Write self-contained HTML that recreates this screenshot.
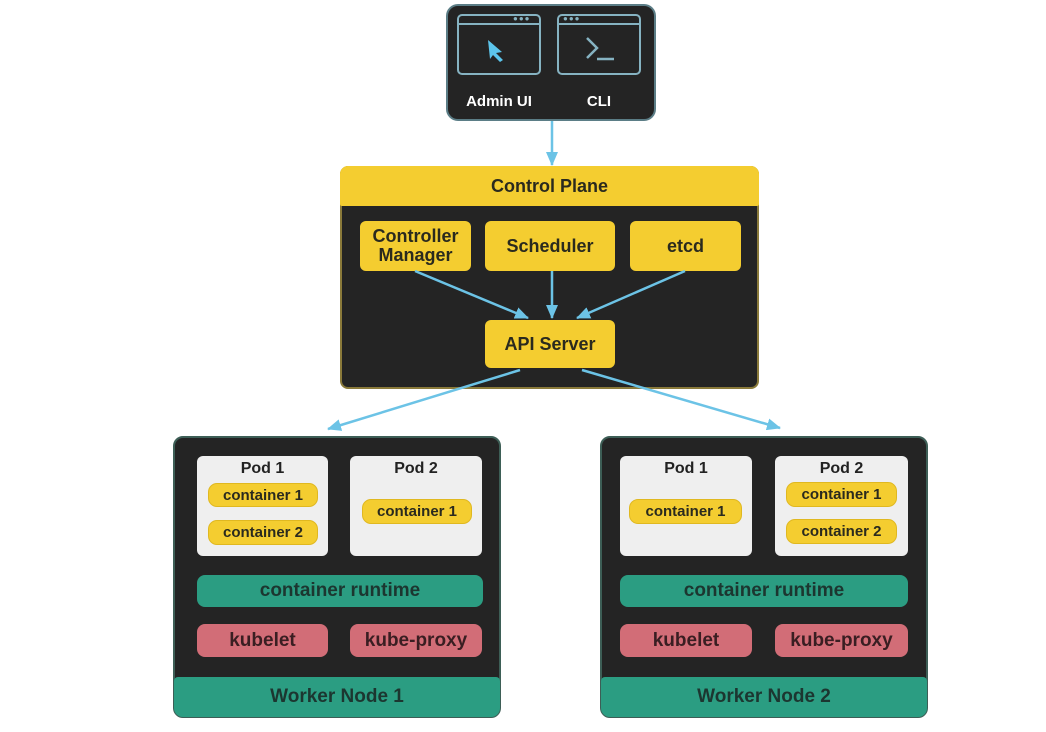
<!DOCTYPE html>
<html><head><meta charset="utf-8"><style>
*{margin:0;padding:0;box-sizing:border-box}
body{width:1046px;height:732px;background:#fff;position:relative;overflow:hidden;font-family:"Liberation Sans","DejaVu Sans",sans-serif;font-weight:bold}
.a{position:absolute;display:flex;align-items:center;justify-content:center;text-align:center}
.y{background:#f4cd30;color:#2a2a1e;border-radius:6px;font-size:18px}
.c{background:#f4cd30;color:#2a2a1e;border-radius:9px;font-size:15px;border:1px solid #e0b820}
.w{background:#efefef;border-radius:6px;align-items:flex-start;padding-top:4px;font-size:16px;color:#222}
.t{background:#2b9d82;color:#1c3630;border-radius:8px;font-size:19px}
.p{background:#d26d77;color:#3a1e22;border-radius:8px;font-size:19px}
.dark{background:#242424}
</style></head><body>
<!-- top -->
<div class="a dark" style="left:446px;top:4px;width:210px;height:117px;border:2px solid #5b7d86;border-radius:12px"></div>
<div class="a" style="left:457px;top:14px;width:84px;height:61px;border:2px solid #86b3c2;border-radius:5px"></div>
<div class="a" style="left:557px;top:14px;width:84px;height:61px;border:2px solid #86b3c2;border-radius:5px"></div>
<div class="a" style="left:457px;top:23px;width:84px;height:2px;background:#86b3c2"></div>
<div class="a" style="left:557px;top:23px;width:84px;height:2px;background:#86b3c2"></div>
<div class="a" style="left:513px;top:14px;color:#86b3c2;font-size:8px;letter-spacing:1px">●●●</div>
<div class="a" style="left:563px;top:14px;color:#86b3c2;font-size:8px;letter-spacing:1px">●●●</div>
<svg style="position:absolute;left:0;top:0" width="1046" height="732">
<path d="M488 40 L502 52 L496 53 L503 60 L500 62 L493 55 L490 59 Z" fill="#5cc5ec"/>
<path d="M587 38 L597 48 L587 58" stroke="#86b3c2" stroke-width="2.5" fill="none"/>
<line x1="597" y1="59" x2="614" y2="59" stroke="#86b3c2" stroke-width="2.5"/>
</svg>
<div class="a" style="left:456px;top:90px;width:86px;height:22px;color:#fff;font-size:15px">Admin UI</div>
<div class="a" style="left:556px;top:90px;width:86px;height:22px;color:#fff;font-size:15px">CLI</div>
<!-- control plane -->
<div class="a dark" style="left:340px;top:166px;width:419px;height:223px;border:2px solid #8a7a3a;border-radius:8px"></div>
<div class="a y" style="left:340px;top:166px;width:419px;height:40px;border-radius:8px 8px 2px 2px;font-size:18px">Control Plane</div>
<div class="a y" style="left:360px;top:221px;width:111px;height:50px;line-height:19px">Controller<br>Manager</div>
<div class="a y" style="left:485px;top:221px;width:130px;height:50px">Scheduler</div>
<div class="a y" style="left:630px;top:221px;width:111px;height:50px">etcd</div>
<div class="a y" style="left:485px;top:320px;width:130px;height:48px">API Server</div>
<!-- workers -->
<div class="a dark" style="left:173px;top:436px;width:328px;height:282px;border:2px solid #3d5e56;border-radius:10px"></div>
<div class="a dark" style="left:600px;top:436px;width:328px;height:282px;border:2px solid #3d5e56;border-radius:10px"></div>
<div class="a t" style="left:174px;top:677px;width:326px;height:40px;border-radius:4px 4px 9px 9px">Worker Node 1</div>
<div class="a t" style="left:601px;top:677px;width:326px;height:40px;border-radius:4px 4px 9px 9px">Worker Node 2</div>

<div class="a w" style="left:197px;top:456px;width:131px;height:100px">Pod 1</div>
<div class="a w" style="left:350px;top:456px;width:132px;height:100px">Pod 2</div>
<div class="a c" style="left:208px;top:483px;width:110px;height:24px">container 1</div>
<div class="a c" style="left:208px;top:520px;width:110px;height:25px">container 2</div>
<div class="a c" style="left:362px;top:499px;width:110px;height:25px">container 1</div>
<div class="a t" style="left:197px;top:575px;width:286px;height:32px">container runtime</div>
<div class="a p" style="left:197px;top:624px;width:131px;height:33px">kubelet</div>
<div class="a p" style="left:350px;top:624px;width:132px;height:33px">kube-proxy</div>

<div class="a w" style="left:620px;top:456px;width:132px;height:100px">Pod 1</div>
<div class="a w" style="left:775px;top:456px;width:133px;height:100px">Pod 2</div>
<div class="a c" style="left:629px;top:499px;width:113px;height:25px">container 1</div>
<div class="a c" style="left:786px;top:482px;width:111px;height:25px">container 1</div>
<div class="a c" style="left:786px;top:519px;width:111px;height:25px">container 2</div>
<div class="a t" style="left:620px;top:575px;width:288px;height:32px">container runtime</div>
<div class="a p" style="left:620px;top:624px;width:132px;height:33px">kubelet</div>
<div class="a p" style="left:775px;top:624px;width:133px;height:33px">kube-proxy</div>

<svg style="position:absolute;left:0;top:0" width="1046" height="732">
<defs><marker id="m" markerWidth="8" markerHeight="8" refX="7" refY="4" orient="auto" markerUnits="userSpaceOnUse"><path d="M0 0 L8 4 L0 8 Z" fill="#6cc3e6"/></marker>
<marker id="n" markerWidth="14" markerHeight="12" refX="13" refY="6" orient="auto" markerUnits="userSpaceOnUse"><path d="M0 0 L14 6 L0 12 Z" fill="#6cc3e6"/></marker></defs>
<g stroke="#6cc3e6" stroke-width="2.5" fill="none">
<line x1="552" y1="121" x2="552" y2="165" marker-end="url(#n)"/>
<line x1="415" y1="271" x2="528" y2="318" marker-end="url(#n)"/>
<line x1="552" y1="271" x2="552" y2="318" marker-end="url(#n)"/>
<line x1="685" y1="271" x2="577" y2="318" marker-end="url(#n)"/>
<line x1="520" y1="370" x2="328" y2="429" marker-end="url(#n)"/>
<line x1="582" y1="370" x2="780" y2="428" marker-end="url(#n)"/>
</g></svg>
</body></html>
